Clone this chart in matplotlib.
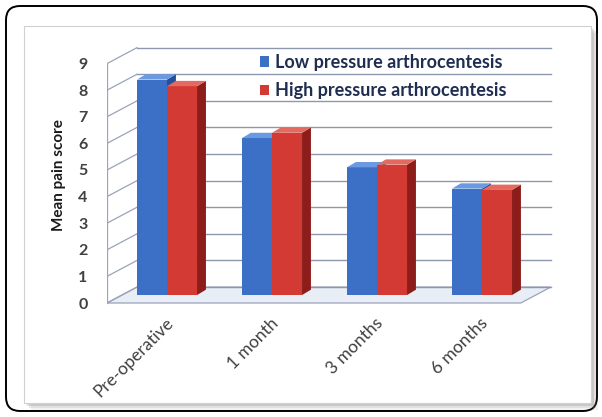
import numpy as np
import matplotlib
matplotlib.use("Agg")
import matplotlib.pyplot as plt
from matplotlib.patches import Polygon, FancyBboxPatch, Rectangle

categories = ["Pre-operative", "1 month", "3 months", "6 months"]
low_pressure = [8.1, 5.9, 4.8, 4.0]
high_pressure = [7.85, 6.1, 4.9, 3.95]
series_names = ["Low pressure arthrocentesis", "High pressure arthrocentesis"]
y_ticks = list(range(10))

plt.rcParams['font.family'] = ['Lato', 'DejaVu Sans']

fig = plt.figure(figsize=(6.02, 4.17), dpi=100)

# ---- background: rounded frame + gradient panel (pixel coords)
bg = fig.add_axes([0, 0, 1, 1])
bg.set_xlim(0, 602)
bg.set_ylim(417, 0)
bg.axis("off")
bg.add_patch(FancyBboxPatch((6, 6), 591, 405, boxstyle="round,pad=0,rounding_size=14",
                            fc="white", ec="black", lw=1.4))
for off, a in [(6, 0.10), (4, 0.15), (2, 0.25)]:
    bg.add_patch(Rectangle((25 + off, 27 + off), 567, 377, fc="#808080", ec="none", alpha=a))
bg.add_patch(Rectangle((24, 26), 567, 377, fc="white", ec="#d0d0d0", lw=0.8))
top_c = np.array([0x9C, 0xB4, 0xE4]) / 255
bot_c = np.array([0xDE, 0xE4, 0xF5]) / 255
t = np.linspace(0, 1, 256)[:, None]
grad = (top_c * (1 - t) + bot_c * t)[:, None, :]
bg.imshow(grad, extent=(27, 589, 401, 29), aspect="auto", interpolation="bilinear")

# ---- chart axes
ax = fig.add_axes([107 / 602, 1 - 310 / 417, 453 / 602, 270 / 417])
ax.set_facecolor("none")
ax.set_xlim(-0.5714, 3.743)
ax.set_ylim(-0.263, 9.887)
for s in ax.spines.values():
    s.set_visible(False)

x = np.arange(len(categories))
dx, dy = 0.2857, 0.60          # wall depth offset
x0, x1 = -0.5714, 3.37         # front floor edge
grid_c = "#8d97ad"

# floor
ax.add_patch(Polygon([(x0, 0), (x0 + dx, dy), (x1 + dx, dy), (x1, 0)],
                     closed=True, fc="#e9edf6", ec="#9aa3b8", lw=0.9, zorder=1))
# back-wall gridlines + diagonals
for v in y_ticks:
    ax.plot([x0 + dx, x1 + dx], [v + dy, v + dy], color=grid_c, lw=1.0, zorder=1)
    ax.plot([x0, x0 + dx], [v, v + dy], color="#9aa3b8", lw=0.9, zorder=1)
ax.plot([x0, x0], [0, 9], color="#9aa3b8", lw=0.9, zorder=1)

ax.set_yticks(y_ticks)
ax.set_yticklabels([str(v) for v in y_ticks], fontsize=11.5, fontweight="bold", color="#404040")
ax.tick_params(axis="y", length=0, pad=14)
ax.set_xticks([])
ax.set_ylabel("Mean pain score", fontsize=11, fontweight="bold", color="#1a1a1a", labelpad=9)

for i, c in enumerate(categories):
    ax.text(x[i] - 0.02, -0.45, c, rotation=45, rotation_mode="anchor", ha="right", va="top",
            fontsize=12.5, color="#404040")

# bars (pseudo 3D)
w = 0.286
by = 0.30                      # bars at mid depth
ddx, ddy = 0.085, 0.20         # bar depth
styles = [("#3b70c6", "#254f96", "#6b9ae2"), ("#d23a33", "#8c1d1a", "#e46a60")]
handles = []
for k, vals in enumerate([low_pressure, high_pressure]):
    front, side, top = styles[k]
    left = x - w + k * w
    b = ax.bar(left, vals, width=w, bottom=by, align="edge", color=front,
               edgecolor="none", zorder=3 + k, label=series_names[k])
    handles.append(b)
    for xl, v in zip(left, vals):
        xr = xl + w
        ax.add_patch(Polygon([(xr, by), (xr + ddx, by + ddy), (xr + ddx, by + v + ddy), (xr, by + v)],
                             closed=True, fc=side, ec="none", zorder=3 + k))
        ax.add_patch(Polygon([(xl, by + v), (xl + ddx, by + v + ddy), (xr + ddx, by + v + ddy), (xr, by + v)],
                             closed=True, fc=top, ec="none", zorder=3 + k))

leg = ax.legend(handles=handles, loc="upper left", bbox_to_anchor=(0.338, 0.948),
                frameon=False, fontsize=13, handlelength=0.5, handleheight=0.5,
                handletextpad=0.35, borderpad=0, borderaxespad=0, labelspacing=0.62)
for txt in leg.get_texts():
    txt.set_color("#1f2d50")
    txt.set_fontweight("bold")

fig.savefig("out.png", dpi=100)
